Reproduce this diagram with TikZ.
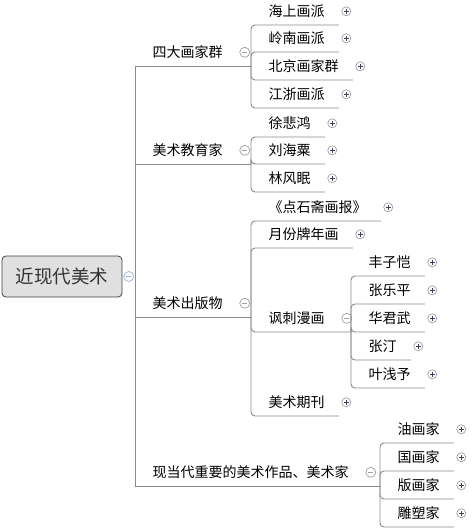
\documentclass[tikz,border=0pt]{standalone}
\usepackage{fontspec}
\newfontfamily\cjk{Noto Sans CJK SC}
\usetikzlibrary{positioning}
\definecolor{linegray}{HTML}{8A8A8A}
\definecolor{btnline}{HTML}{A0A0A0}
\definecolor{btnmark}{HTML}{404058}
\definecolor{rootblue}{HTML}{9DB1DE}
\tikzset{
  topic/.style={anchor=south west, inner xsep=17.5pt, inner ysep=6.75pt,
    text height=12pt, text depth=1.5pt, font=\cjk\fontsize{14}{16}\selectfont},
  rootbox/.style={draw=black!75, fill=black!12, rounded corners=4pt, line width=0.8pt,
    minimum width=120pt, minimum height=41pt, inner sep=0pt,
    font=\cjk\fontsize{18.5}{20}\selectfont, text=black!80},
  plusbtn/.style={circle, draw=btnline, fill=white, line width=0.7pt, minimum size=9pt, inner sep=0pt,
    path picture={\draw[btnmark, line width=0.8pt]
      ([xshift=-2.3pt]path picture bounding box.center) -- ([xshift=2.3pt]path picture bounding box.center)
      ([yshift=-2.3pt]path picture bounding box.center) -- ([yshift=2.3pt]path picture bounding box.center);}},
  minusbtn/.style={circle, draw=#1, fill=white, line width=0.7pt, minimum size=10pt, inner sep=0pt,
    path picture={\draw[#1, line width=0.8pt]
      ([xshift=-2.6pt]path picture bounding box.center) -- ([xshift=2.6pt]path picture bounding box.center);}},
  minusbtn/.default=btnline,
  link/.style={draw=linegray, line width=0.9pt}
}
\begin{document}
\begin{tikzpicture}[x=1pt, y=-1pt]
  \useasboundingbox (0,0) rectangle (475,531);
  % Root
  \node[rootbox] (root) at (62,276.5) {近现代美术};
  \node[minusbtn=rootblue, right=1pt of root] (root-x) {};
  % Main branches
  \node[topic] (group) at (135,66) {四大画家群};
  \node[topic] (edu) at (135,164) {美术教育家};
  \node[topic] (pub) at (135,317) {美术出版物};
  \node[topic] (modern) at (135,486) {现当代重要的美术作品、美术家};
  \foreach \n in {group,edu,pub,modern}
    \node[minusbtn, right=-1pt of \n] (\n-x) {};
  % 四大画家群
  \node[topic] (haishang) at (251,25) {海上画派};
  \node[topic] (lingnan) at (251,52) {岭南画派};
  \node[topic] (beijing) at (251,80) {北京画家群};
  \node[topic] (jiangzhe) at (251,108) {江浙画派};
  % 美术教育家
  \node[topic] (xu) at (251,137) {徐悲鸿};
  \node[topic] (liu) at (251,164) {刘海粟};
  \node[topic] (lin) at (251,192) {林风眠};
  % 美术出版物
  \node[topic] (dianshi) at (251,221) {《点石斋画报》};
  \node[topic] (yuefen) at (251,248) {月份牌年画};
  \node[topic] (fengci) at (251,332) {讽刺漫画};
  \node[topic] (qikan) at (251,416) {美术期刊};
  \node[minusbtn, right=-1pt of fengci] (fengci-x) {};
  % 讽刺漫画
  \node[topic] (feng) at (351,276) {丰子恺};
  \node[topic] (zhang) at (351,304) {张乐平};
  \node[topic] (hua) at (351,332) {华君武};
  \node[topic] (zhangding) at (351,360) {张汀};
  \node[topic] (ye) at (351,388) {叶浅予};
  % 现当代重要的美术作品、美术家
  \node[topic] (you) at (380,443) {油画家};
  \node[topic] (guo) at (380,471) {国画家};
  \node[topic] (ban) at (380,499) {版画家};
  \node[topic] (diao) at (380,527) {雕塑家};
  % Leaves get a plus button
  \foreach \n in {haishang,lingnan,beijing,jiangzhe,xu,liu,lin,dianshi,yuefen,qikan,
                  feng,zhang,hua,zhangding,ye,you,guo,ban,diao}
    \node[plusbtn, right=-1pt of \n] (\n-x) {};
  % Junctions
  \coordinate (root-j) at (root-x -| group.south west);
  \coordinate (group-j) at (group.south west -| haishang.south west);
  \coordinate (edu-j) at (edu.south west -| xu.south west);
  \coordinate (pub-j) at (pub.south west -| dianshi.south west);
  \coordinate (fengci-j) at (fengci.south west -| feng.south west);
  \coordinate (modern-j) at (modern.south west -| you.south west);
  % Root connectors
  \foreach \n in {group,edu,pub,modern}
    \draw[link] (root-j) |- (\n.south west) -- (\n-j);
  % Child connectors
  \foreach \p/\kids in {group/{haishang,lingnan,beijing,jiangzhe}, edu/{xu,liu,lin},
                        pub/{dianshi,yuefen,qikan}, fengci/{feng,zhang,hua,zhangding,ye},
                        modern/{you,guo,ban,diao}}
    \foreach \c in \kids
      \draw[link, rounded corners=4pt] (\p-j) |- ([xshift=-3.5pt]\c.south east);
  \draw[link, rounded corners=4pt] (pub-j) |- (fengci-j);
\end{tikzpicture}
\end{document}
